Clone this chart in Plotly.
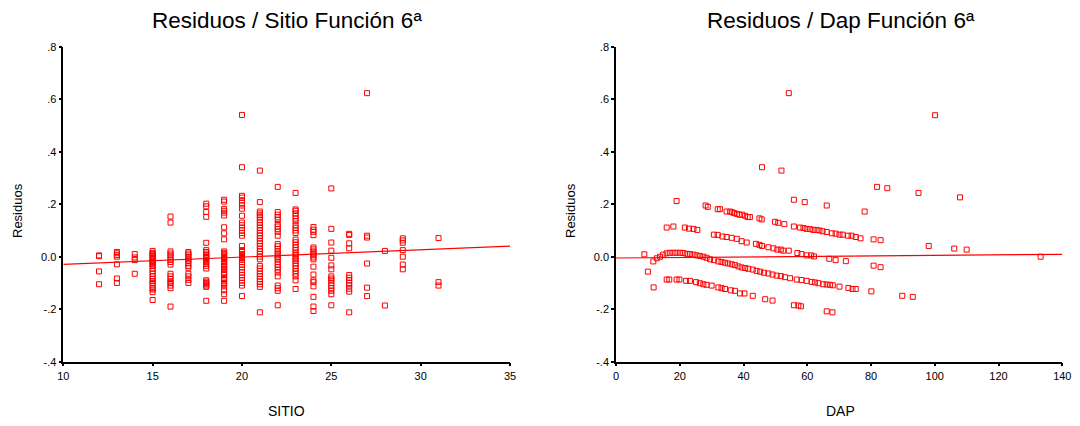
import plotly.graph_objects as go
import numpy as np

# ---------------- Left panel: residuals by SITIO ----------------
SITIO_LEVELS = [12, 13, 14, 15, 16, 17, 18, 19, 20, 21, 22, 23, 24, 25, 26, 27, 28, 29, 31]
R12 = [0.005, 0.002, -0.056, -0.105]
R13 = [0.018, 0.013, 0.006, 0.0, -0.029, -0.083, -0.1]
R14 = [0.010, -0.003, -0.013, -0.065]
R15 = [0.022, 0.015, 0.01, 0.005, 0.0, -0.005, -0.01, -0.015, -0.02, -0.025, -0.03, -0.035,
       -0.045, -0.055, -0.065, -0.075, -0.085, -0.093, -0.1, -0.11, -0.12, -0.125, -0.135, -0.165]
R16 = [0.153, 0.130, 0.02, 0.012, 0.005, -0.003, -0.012, -0.02, -0.03, -0.065, -0.075, -0.085,
       -0.095, -0.1, -0.11, -0.12, -0.19]
R17 = [0.018, 0.012, 0.005, -0.003, -0.01, -0.016, -0.025, -0.035, -0.042, -0.065, -0.075, -0.088, -0.1]
R18 = [0.202, 0.192, 0.17, 0.152, 0.053, 0.025, 0.018, 0.012, 0.005, 0.0, -0.005, -0.012, -0.02,
       -0.028, -0.035, -0.045, -0.09, -0.095, -0.1, -0.105, -0.11, -0.115, -0.168]
R19 = [0.217, 0.21, 0.182, 0.175, 0.168, 0.157, 0.112, 0.089, 0.066, 0.02, 0.015, 0.01, 0.005, 0.0,
       -0.005, -0.01, -0.015, -0.02, -0.028, -0.035, -0.04, -0.045, -0.05, -0.06, -0.065, -0.07,
       -0.08, -0.085, -0.09, -0.1, -0.105, -0.113, -0.128, -0.143, -0.168]
R20 = [0.54, 0.341, 0.232, 0.225, 0.215, 0.205, 0.195, 0.183, 0.156, 0.13, 0.12, 0.11, 0.1, 0.09,
       0.08, 0.041, 0.025, 0.018, 0.01, 0.003, -0.005, -0.012, -0.02, -0.03, -0.04, -0.05, -0.06,
       -0.07, -0.08, -0.09, -0.1, -0.11, -0.15]
R21 = [0.328, 0.208, 0.172, 0.165, 0.158, 0.15, 0.14, 0.13, 0.12, 0.11, 0.1, 0.09, 0.08, 0.07, 0.06,
       0.05, 0.04, 0.03, 0.02, 0.01, 0.0, -0.01, -0.035, -0.045, -0.055, -0.065, -0.075, -0.085,
       -0.095, -0.105, -0.115, -0.212]
R22 = [0.266, 0.17, 0.16, 0.15, 0.14, 0.125, 0.115, 0.105, 0.095, 0.08, 0.048, 0.04, 0.03, 0.02,
       0.012, 0.005, -0.003, -0.01, -0.02, -0.03, -0.04, -0.05, -0.06, -0.075, -0.11, -0.12, -0.13, -0.185]
R23 = [0.243, 0.18, 0.175, 0.165, 0.155, 0.145, 0.135, 0.12, 0.11, 0.1, 0.09, 0.065, 0.055, 0.045,
       0.035, 0.025, 0.015, 0.008, 0.0, -0.008, -0.015, -0.025, -0.035, -0.045, -0.055, -0.065,
       -0.075, -0.09, -0.123]
R24 = [0.113, 0.103, 0.095, 0.082, 0.035, 0.028, 0.02, 0.012, 0.005, -0.003, -0.01, -0.038, -0.068,
       -0.09, -0.097, -0.113, -0.153, -0.19, -0.207]
R25 = [0.26, 0.106, 0.054, 0.023, -0.004, -0.033, -0.048, -0.075, -0.083, -0.09, -0.1, -0.11, -0.12,
       -0.13, -0.143, -0.185]
R26 = [0.087, 0.083, 0.051, 0.032, -0.07, -0.08, -0.09, -0.1, -0.11, -0.122, -0.133, -0.212]
R27 = [0.623, 0.08, 0.073, -0.026, -0.118, -0.15]
R28 = [0.022, -0.186]
R29 = [0.07, 0.062, 0.053, 0.025, 0.0, -0.03, -0.048]
R31 = [0.071, -0.097, -0.11]
SITIO_RESID = [R12, R13, R14, R15, R16, R17, R18, R19, R20, R21, R22, R23, R24, R25, R26, R27, R28, R29, R31]

LEFT_FIT_INTERCEPT = -0.0566
LEFT_FIT_SLOPE = 0.00276
LEFT_X_RANGE = [10, 35]

# ---------------- Right panel: residuals by DAP ----------------
DAP_A = [28.1, 28.8, 31.9, 32.6, 34.7, 35.8, 36.5, 37.1, 37.9, 38.7, 39.6, 40.5, 41.3, 42.0, 45.0, 45.7,
         49.9, 50.9, 52.8, 55.8, 57.7, 58.8, 59.8, 60.9, 61.9, 62.9, 63.8, 64.8, 66.1, 67.7, 68.9, 70.1,
         71.1, 72.8, 73.9, 75.2, 76.7]
RES_A = [0.195, 0.190, 0.181, 0.181, 0.172, 0.172, 0.169, 0.166, 0.163, 0.160, 0.160, 0.156, 0.151, 0.151,
         0.146, 0.142, 0.133, 0.129, 0.124, 0.115, 0.111, 0.109, 0.106, 0.105, 0.102, 0.102, 0.100, 0.097,
         0.094, 0.089, 0.088, 0.084, 0.084, 0.080, 0.080, 0.075, 0.070]
DAP_B = [15.9, 18.0, 21.6, 22.9, 24.3, 25.5, 30.7, 31.9, 33.4, 34.7, 36.3, 37.9, 39.4, 41.0, 43.9, 45.0,
         45.8, 47.8, 49.4, 50.6, 51.7, 52.5, 54.2, 56.9, 58.2, 59.8, 61.2, 62.1, 66.9, 68.9, 72.1, 80.8, 83.0]
RES_B = [0.111, 0.115, 0.111, 0.107, 0.106, 0.102, 0.084, 0.083, 0.077, 0.075, 0.072, 0.068, 0.059, 0.054,
         0.049, 0.045, 0.041, 0.036, 0.032, 0.027, 0.027, 0.023, 0.023, 0.014, 0.010, 0.005, 0.005, 0.001,
         -0.008, -0.013, -0.017, -0.034, -0.040]
DAP_C = [11.7, 12.8, 13.8, 14.8, 15.9, 16.9, 18.0, 19.0, 20.1, 21.1, 22.2, 23.2, 24.3, 25.3, 26.3, 27.4,
         28.4, 29.5, 30.7, 32.1, 33.1, 34.2, 35.2, 36.3, 37.3, 38.4, 39.4, 40.5, 41.5, 42.9, 44.1, 45.2,
         46.4, 47.8, 49.1, 50.4, 51.7, 53.0, 54.6, 56.7, 58.2, 59.8, 61.4, 62.4, 63.5, 65.0, 66.1, 67.1,
         68.0, 70.1, 72.9, 74.2, 75.2]
RES_C = [-0.018, -0.006, 0.0, 0.008, 0.013, 0.015, 0.015, 0.015, 0.015, 0.014, 0.011, 0.010, 0.008, 0.005,
         0.003, 0.0, -0.004, -0.010, -0.013, -0.018, -0.020, -0.023, -0.026, -0.029, -0.032, -0.037,
         -0.041, -0.043, -0.046, -0.049, -0.054, -0.057, -0.061, -0.064, -0.068, -0.072, -0.074, -0.078,
         -0.082, -0.087, -0.089, -0.092, -0.096, -0.098, -0.101, -0.105, -0.106, -0.107, -0.109, -0.114,
         -0.119, -0.123, -0.123]
DAP_D = [15.9, 16.7, 19.0, 19.9, 22.0, 23.2, 25.1, 26.3, 27.4, 28.4, 30.0, 32.1, 33.1, 34.2, 36.0, 37.3,
         38.9, 40.3, 42.9, 46.8, 49.1, 55.8, 57.2, 58.0, 66.1, 67.9]
RES_D = [-0.087, -0.087, -0.087, -0.087, -0.092, -0.092, -0.097, -0.101, -0.105, -0.107, -0.110, -0.117,
         -0.120, -0.123, -0.128, -0.130, -0.140, -0.140, -0.149, -0.162, -0.167, -0.185, -0.186, -0.189,
         -0.208, -0.212]
DAP_OUT = [54.2, 100.1, 45.8, 51.9, 81.9, 85.1, 94.9, 107.9, 19.0, 55.8, 59.2, 66.1, 78.0, 98.1, 106.1,
           110.0, 133.2, 10.0, 11.8, 8.9, 89.8, 93.1, 80.1, 80.8, 83.0]
RES_OUT = [0.623, 0.539, 0.341, 0.328, 0.266, 0.261, 0.243, 0.226, 0.212, 0.217, 0.208, 0.195, 0.172,
           0.041, 0.031, 0.027, 0.0, -0.057, -0.117, 0.009, -0.149, -0.153, -0.132, 0.066, 0.063]

RIGHT_FIT_INTERCEPT = -0.005
RIGHT_FIT_SLOPE = 0.0001
RIGHT_X_RANGE = [0, 140]

Y_TICKS = [-0.4, -0.2, 0.0, 0.2, 0.4, 0.6, 0.8]
Y_TICK_TEXT = ["-.4", "-.2", "0.0", ".2", ".4", ".6", ".8"]
LEFT_X_TICKS = [10, 15, 20, 25, 30, 35]
RIGHT_X_TICKS = [0, 20, 40, 60, 80, 100, 120, 140]

# ---------------- Build figure ----------------
RED = "#ff0000"
FONT = "Liberation Sans, Arial, sans-serif"

left_x = []
left_y = []
for lvl, vals in zip(SITIO_LEVELS, SITIO_RESID):
    left_x += [lvl] * len(vals)
    left_y += vals

right_x = DAP_A + DAP_B + DAP_C + DAP_D + DAP_OUT
right_y = RES_A + RES_B + RES_C + RES_D + RES_OUT

marker = dict(symbol="square-open", size=5, color=RED, line=dict(width=1, color=RED))

fig = go.Figure()
fig.add_trace(go.Scatter(x=left_x, y=left_y, mode="markers", marker=marker, xaxis="x", yaxis="y",
                         showlegend=False, hoverinfo="x+y", cliponaxis=False))
lx = np.array(LEFT_X_RANGE, dtype=float)
fig.add_trace(go.Scatter(x=lx, y=LEFT_FIT_INTERCEPT + LEFT_FIT_SLOPE * lx, mode="lines",
                         line=dict(color=RED, width=1.2), xaxis="x", yaxis="y", showlegend=False))
fig.add_trace(go.Scatter(x=right_x, y=right_y, mode="markers", marker=marker, xaxis="x2", yaxis="y2",
                         showlegend=False, hoverinfo="x+y", cliponaxis=False))
rx = np.array(RIGHT_X_RANGE, dtype=float)
fig.add_trace(go.Scatter(x=rx, y=RIGHT_FIT_INTERCEPT + RIGHT_FIT_SLOPE * rx, mode="lines",
                         line=dict(color=RED, width=1.2), xaxis="x2", yaxis="y2", showlegend=False))

# page body has an 8px default margin, so the figure is drawn 8px in from the window edge
OFF = 8
W, H = 1080 - OFF, 426 - OFF
def fx(px):
    return (px - OFF) / W
def fy(py):
    return 1 - (py - OFF) / H

axis_common = dict(showgrid=False, zeroline=False, showline=True, linecolor="black", linewidth=1.5,
                   ticks="outside", ticklen=3, tickcolor="black", tickwidth=1.5, automargin=False,
                   tickfont=dict(family=FONT, size=11, color="black"))

fig.update_layout(
    width=W, height=H, margin=dict(l=0, r=0, t=0, b=0, pad=0),
    paper_bgcolor="white", plot_bgcolor="white",
    xaxis=dict(domain=[fx(63.3), fx(510)], range=LEFT_X_RANGE, tickvals=LEFT_X_TICKS,
               anchor="y", **axis_common),
    yaxis=dict(domain=[fy(361.7), fy(46.7)], range=[-0.4, 0.8], tickvals=Y_TICKS, ticktext=Y_TICK_TEXT,
               anchor="x", **axis_common),
    xaxis2=dict(domain=[fx(616), fx(1062.3)], range=RIGHT_X_RANGE, tickvals=RIGHT_X_TICKS,
                anchor="y2", **axis_common),
    yaxis2=dict(domain=[fy(361.7), fy(46.7)], range=[-0.4, 0.8], tickvals=Y_TICKS, ticktext=Y_TICK_TEXT,
                anchor="x2", **axis_common),
    annotations=[
        dict(text="Residuos / Sitio Función 6ª", x=fx(287), y=fy(21), xref="paper", yref="paper",
             showarrow=False, font=dict(family=FONT, size=22.5, color="black"), xanchor="center", yanchor="middle"),
        dict(text="Residuos / Dap Función 6ª", x=fx(841), y=fy(21), xref="paper", yref="paper",
             showarrow=False, font=dict(family=FONT, size=22.5, color="black"), xanchor="center", yanchor="middle"),
        dict(text="SITIO", x=fx(286), y=fy(411), xref="paper", yref="paper", showarrow=False,
             font=dict(family=FONT, size=14, color="black"), xanchor="center", yanchor="middle"),
        dict(text="DAP", x=fx(840), y=fy(411), xref="paper", yref="paper", showarrow=False,
             font=dict(family=FONT, size=14, color="black"), xanchor="center", yanchor="middle"),
        dict(text="Residuos", x=fx(17), y=fy(211), xref="paper", yref="paper", showarrow=False, textangle=-90,
             font=dict(family=FONT, size=13, color="black"), xanchor="center", yanchor="middle"),
        dict(text="Residuos", x=fx(570), y=fy(211), xref="paper", yref="paper", showarrow=False, textangle=-90,
             font=dict(family=FONT, size=13, color="black"), xanchor="center", yanchor="middle"),
    ],
)

fig.write_html("out.html")
